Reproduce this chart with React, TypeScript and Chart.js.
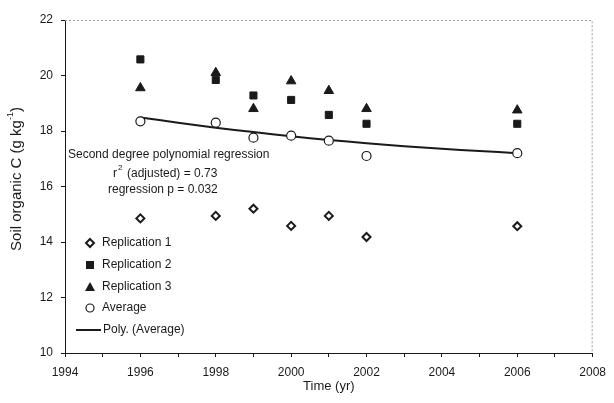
import { useEffect, useRef } from 'react';
import { Chart, registerables } from 'chart.js';

Chart.register(...registerables);

const years = [1996, 1998, 1999, 2000, 2001, 2002, 2006];
const replication1 = [14.85, 14.94, 15.2, 14.58, 14.94, 14.18, 14.57];
const replication2 = [20.58, 19.84, 19.28, 19.12, 18.58, 18.26, 18.26];
const replication3 = [19.55, 20.1, 18.8, 19.8, 19.45, 18.8, 18.75];
const average = [18.35, 18.3, 17.76, 17.83, 17.65, 17.1, 17.2];
const polyYears = [1996, 1997, 1998, 1999, 2000, 2001, 2002, 2003, 2004, 2005, 2006];
const polyAverage = [18.49, 18.3, 18.12, 17.96, 17.81, 17.68, 17.56, 17.45, 17.36, 17.28, 17.2];
const seriesLabels = ['Replication 1', 'Replication 2', 'Replication 3', 'Average', 'Poly. (Average)'];
const annotationLines = ['Second degree polynomial regression', '(adjusted) = 0.73', 'regression p = 0.032'];
const yTitleMain = 'Soil organic C (g kg';
const yTitleSup = '-1';

const FONT = '"Liberation Sans", Arial, sans-serif';
const INK = '#1a1a1a';

const pts = (xs: number[], ys: number[]) => xs.map((x, i) => ({ x, y: ys[i] }));

const overlay = {
  id: 'overlay',
  afterDraw(chart: any) {
    const { ctx, chartArea } = chart;
    const { left, right, top, bottom } = chartArea;
    ctx.save();
    // dotted top/right frame
    ctx.strokeStyle = '#9a9a9a';
    ctx.lineWidth = 1;
    ctx.setLineDash([2, 2]);
    ctx.beginPath();
    ctx.moveTo(left, top + 0.5);
    ctx.lineTo(right - 0.5, top + 0.5);
    ctx.lineTo(right - 0.5, bottom);
    ctx.stroke();
    ctx.setLineDash([]);

    // y axis title (rotated)
    ctx.save();
    ctx.translate(17, 179);
    ctx.rotate(-Math.PI / 2);
    ctx.fillStyle = INK;
    ctx.textBaseline = 'middle';
    ctx.font = `15px ${FONT}`;
    const wMain = ctx.measureText(yTitleMain).width;
    ctx.font = `9px ${FONT}`;
    const wSup = ctx.measureText(yTitleSup).width;
    ctx.font = `15px ${FONT}`;
    const wClose = ctx.measureText(')').width;
    const total = wMain + wSup + wClose;
    let x0 = -total / 2;
    ctx.textAlign = 'left';
    ctx.fillText(yTitleMain, x0, 0);
    x0 += wMain;
    ctx.font = `9px ${FONT}`;
    ctx.fillText(yTitleSup, x0, -6);
    x0 += wSup;
    ctx.font = `15px ${FONT}`;
    ctx.fillText(')', x0, 0);
    ctx.restore();

    // annotation
    ctx.fillStyle = INK;
    ctx.font = `12px ${FONT}`;
    ctx.textBaseline = 'middle';
    ctx.textAlign = 'left';
    ctx.fillText(annotationLines[0], 68, 155);
    ctx.fillText('r', 113, 174);
    ctx.font = `8px ${FONT}`;
    ctx.fillText('2', 118, 168);
    ctx.font = `12px ${FONT}`;
    ctx.fillText(annotationLines[1], 127, 174);
    ctx.fillText(annotationLines[2], 108, 190);

    // legend
    const ys = [243, 265, 287, 308, 330];
    const mx = 90;
    const tx = 102;
    ctx.strokeStyle = INK;
    ctx.fillStyle = INK;
    ctx.lineWidth = 2;
    ctx.beginPath();
    ctx.moveTo(mx, ys[0] - 4);
    ctx.lineTo(mx + 4, ys[0]);
    ctx.lineTo(mx, ys[0] + 4);
    ctx.lineTo(mx - 4, ys[0]);
    ctx.closePath();
    ctx.fillStyle = '#fff';
    ctx.fill();
    ctx.stroke();
    ctx.fillStyle = INK;
    ctx.fillRect(mx - 4, ys[1] - 4, 8, 8);
    ctx.beginPath();
    ctx.moveTo(mx, ys[2] - 5);
    ctx.lineTo(mx + 5, ys[2] + 4);
    ctx.lineTo(mx - 5, ys[2] + 4);
    ctx.closePath();
    ctx.fill();
    ctx.lineWidth = 1.2;
    ctx.beginPath();
    ctx.arc(mx, ys[3], 4, 0, Math.PI * 2);
    ctx.stroke();
    ctx.lineWidth = 2;
    ctx.beginPath();
    ctx.moveTo(76, ys[4]);
    ctx.lineTo(101, ys[4]);
    ctx.stroke();

    ctx.fillStyle = INK;
    ctx.font = `12px ${FONT}`;
    seriesLabels.forEach((t, i) => {
      ctx.fillText(t, i === 4 ? 103 : tx, ys[i]);
    });
    ctx.restore();
  },
};

export default function App() {
  const ref = useRef<HTMLCanvasElement>(null);
  useEffect(() => {
    document.body.style.margin = '0';
    const chart = new Chart(ref.current as HTMLCanvasElement, {
      type: 'scatter',
      data: {
        datasets: [
          {
            label: seriesLabels[0],
            data: pts(years, replication1),
            pointStyle: 'rectRot',
            pointRadius: 4,
            backgroundColor: '#fff',
            borderColor: INK,
            borderWidth: 2,
            order: 1,
          },
          {
            label: seriesLabels[1],
            data: pts(years, replication2),
            pointStyle: 'rect',
            pointRadius: 5,
            backgroundColor: INK,
            borderColor: INK,
            borderWidth: 1,
            order: 1,
          },
          {
            label: seriesLabels[2],
            data: pts(years, replication3),
            pointStyle: 'triangle',
            pointRadius: 5.5,
            backgroundColor: INK,
            borderColor: INK,
            borderWidth: 1,
            order: 1,
          },
          {
            label: seriesLabels[3],
            data: pts(years, average),
            pointStyle: 'circle',
            pointRadius: 4.5,
            backgroundColor: '#fff',
            borderColor: INK,
            borderWidth: 1.2,
            order: 1,
          },
          {
            label: seriesLabels[4],
            data: pts(polyYears, polyAverage),
            showLine: true,
            pointRadius: 0,
            borderColor: INK,
            borderWidth: 2,
            tension: 0.4,
            order: 2,
          } as any,
        ],
      },
      options: {
        responsive: false,
        animation: false,
        devicePixelRatio: 1,
        layout: { padding: { left: 0, right: 16, top: 20, bottom: 0 } },
        plugins: { legend: { display: false }, tooltip: { enabled: false } },
        scales: {
          x: {
            type: 'linear',
            min: 1994,
            max: 2008,
            afterFit: (s: any) => { s.height = 50; },
            ticks: {
              stepSize: 1,
              autoSkip: false,
              maxRotation: 0,
              padding: 8,
              color: INK,
              font: { family: FONT, size: 12 },
              callback: (v: any) => (Number(v) % 2 === 0 ? String(v) : ''),
            },
            grid: { drawOnChartArea: false, tickLength: 4, color: INK },
            border: { color: INK, width: 1 },
            title: {
              display: true,
              text: 'Time (yr)',
              color: INK,
              font: { family: FONT, size: 13 },
              padding: { top: 0, bottom: 9 },
            },
          },
          y: {
            min: 10,
            max: 22,
            afterFit: (s: any) => { s.width = 65; },
            ticks: {
              stepSize: 2,
              padding: 8,
              color: INK,
              font: { family: FONT, size: 12 },
            },
            grid: { drawOnChartArea: false, tickLength: 4, color: INK },
            border: { color: INK, width: 1 },
            title: { display: false },
          },
        },
      },
      plugins: [overlay],
    });
    return () => chart.destroy();
  }, []);
  return (
    <canvas
      ref={ref}
      width={614}
      height={403}
      style={{ display: 'block', width: 614, height: 403 }}
    />
  );
}
